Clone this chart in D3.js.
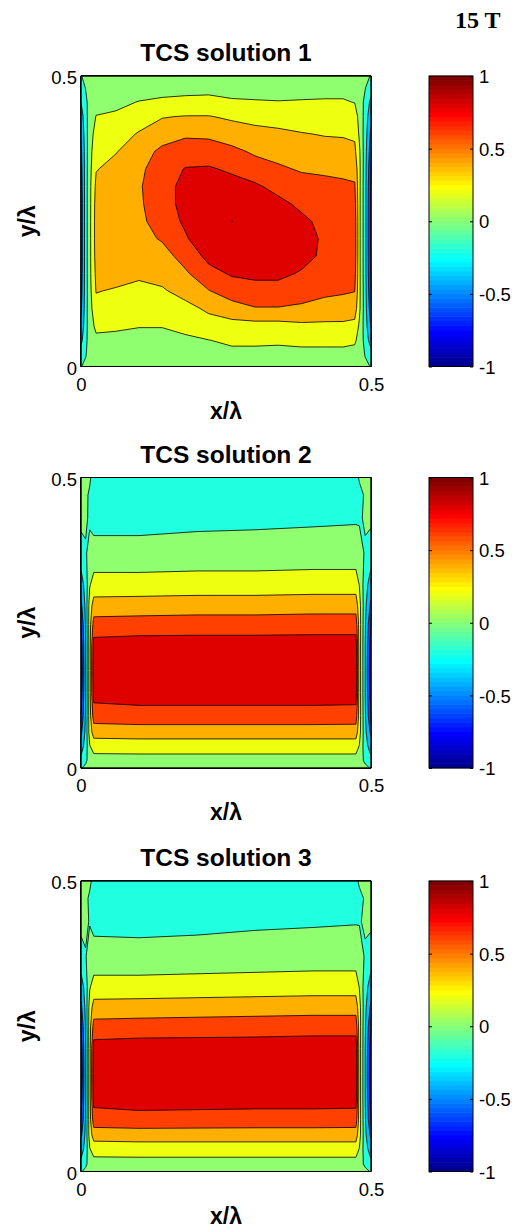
<!DOCTYPE html>
<html><head><meta charset="utf-8">
<script src="https://cdn.jsdelivr.net/npm/d3@7"></script>
<style>body{margin:0;background:#fff}</style>
</head><body>
<svg id="c" width="516" height="1232" xmlns="http://www.w3.org/2000/svg"></svg>
<script>
// ---------------- data ----------------
const levels = [-1, -0.8, -0.6, -0.4, -0.2, 0, 0.2, 0.4, 0.6, 0.8, 1];
const axisTicks = [0, 0.5];
const axisTickLabels = ["0", "0.5"];
const cbarTicks = [1, 0.5, 0, -0.5, -1];
const cbarTickLabels = ["1", "0.5", "0", "-0.5", "-1"];
const titles = ["TCS solution 1", "TCS solution 2", "TCS solution 3"];
const cornerLabel = "15 T";
const xLabel = "x/λ", yLabel = "y/λ";

// panel 1 grid (x/λ columns, y/λ rows from top to bottom)
const gridX1 = [0, 0.008, 0.015, 0.026, 0.06, 0.1, 0.14, 0.18, 0.22, 0.26, 0.3, 0.34, 0.38, 0.42, 0.452, 0.472, 0.48, 0.49, 0.5];
const gridY1 = [0.5, 0.48, 0.455, 0.43, 0.40, 0.37, 0.34, 0.31, 0.28, 0.25, 0.22, 0.19, 0.16, 0.13, 0.10, 0.07, 0.045, 0.02, 0];
const field1 = [
 [-0.01, 0.05, 0.08, 0.1, 0.1, 0.1, 0.1, 0.1, 0.1, 0.1, 0.1, 0.1, 0.1, 0.1, 0.1, 0.1, 0.08, 0.04, -0.01],
 [-0.1, 0.01, 0.09, 0.11, 0.12, 0.14, 0.15, 0.15, 0.15, 0.14, 0.15, 0.15, 0.15, 0.15, 0.15, 0.14, 0.1, 0.01, -0.12],
 [-0.2, -0.06, 0.1, 0.15, 0.17, 0.205, 0.224, 0.24, 0.25, 0.22, 0.21, 0.205, 0.21, 0.215, 0.215, 0.195, 0.12, -0.06, -0.25],
 [-0.3, -0.08, 0.11, 0.205, 0.22, 0.29, 0.39, 0.41, 0.41, 0.37, 0.33, 0.32, 0.31, 0.31, 0.31, 0.28, 0.15, -0.08, -0.35],
 [-0.38, -0.09, 0.12, 0.27, 0.3, 0.42, 0.5, 0.57, 0.56, 0.5, 0.47, 0.44, 0.41, 0.39, 0.385, 0.37, 0.17, -0.1, -0.45],
 [-0.44, -0.1, 0.13, 0.33, 0.39, 0.5, 0.65, 0.7, 0.7, 0.65, 0.57, 0.53, 0.5, 0.47, 0.46, 0.44, 0.23, -0.12, -0.52],
 [-0.48, -0.1, 0.14, 0.39, 0.46, 0.56, 0.7, 0.81, 0.82, 0.77, 0.69, 0.63, 0.58, 0.575, 0.56, 0.54, 0.25, -0.13, -0.58],
 [-0.5, -0.1, 0.15, 0.44, 0.5, 0.58, 0.72, 0.86, 0.9, 0.87, 0.83, 0.74, 0.68, 0.64, 0.63, 0.62, 0.25, -0.14, -0.62],
 [-0.52, -0.1, 0.15, 0.47, 0.53, 0.57, 0.72, 0.86, 0.95, 0.95, 0.92, 0.85, 0.76, 0.7, 0.68, 0.67, 0.25, -0.14, -0.64],
 [-0.52, -0.1, 0.15, 0.48, 0.55, 0.55, 0.7, 0.83, 0.96, 1.001, 0.97, 0.92, 0.84, 0.75, 0.71, 0.7, 0.25, -0.14, -0.65],
 [-0.52, -0.1, 0.15, 0.48, 0.55, 0.53, 0.62, 0.78, 0.93, 0.97, 0.97, 0.95, 0.88, 0.77, 0.72, 0.71, 0.25, -0.14, -0.65],
 [-0.52, -0.1, 0.15, 0.47, 0.53, 0.5, 0.52, 0.68, 0.85, 0.9, 0.93, 0.93, 0.87, 0.76, 0.71, 0.7, 0.25, -0.14, -0.64],
 [-0.5, -0.1, 0.15, 0.44, 0.48, 0.44, 0.46, 0.57, 0.74, 0.82, 0.85, 0.85, 0.78, 0.72, 0.68, 0.66, 0.25, -0.14, -0.62],
 [-0.48, -0.1, 0.14, 0.41, 0.38, 0.34, 0.38, 0.46, 0.59, 0.7, 0.72, 0.72, 0.68, 0.64, 0.62, 0.605, 0.25, -0.13, -0.58],
 [-0.44, -0.09, 0.13, 0.33, 0.3, 0.27, 0.3, 0.35, 0.43, 0.52, 0.59, 0.59, 0.57, 0.53, 0.52, 0.5, 0.24, -0.12, -0.52],
 [-0.36, -0.08, 0.12, 0.24, 0.23, 0.21, 0.21, 0.26, 0.33, 0.33, 0.33, 0.33, 0.36, 0.36, 0.36, 0.34, 0.17, -0.1, -0.42],
 [-0.25, -0.06, 0.11, 0.16, 0.15, 0.13, 0.13, 0.16, 0.195, 0.24, 0.24, 0.23, 0.25, 0.25, 0.25, 0.23, 0.13, -0.07, -0.3],
 [-0.1, -0.015, 0.09, 0.11, 0.11, 0.1, 0.1, 0.11, 0.12, 0.14, 0.14, 0.14, 0.14, 0.14, 0.14, 0.13, 0.1, -0.01, -0.12],
 [-0.01, 0.05, 0.08, 0.1, 0.1, 0.09, 0.09, 0.1, 0.1, 0.1, 0.1, 0.1, 0.1, 0.1, 0.1, 0.1, 0.08, 0.04, -0.01]
];

// panels 2 and 3 grid columns
const gridX23 = [0, 0.008, 0.015, 0.022, 0.1, 0.2, 0.3, 0.4, 0.474, 0.48, 0.49, 0.5];
const gridY2 = [0.5, 0.47, 0.43, 0.37, 0.316, 0.28, 0.247, 0.21, 0.168, 0.13, 0.09, 0.062, 0.038, 0.013, 0];
const field2 = [
 [0.02, 0.05, 0.03, -0.08, -0.11, -0.12, -0.12, -0.11, -0.05, 0.02, 0.05, 0.03],
 [0.05, 0.04, -0.03, -0.1, -0.1, -0.1, -0.09, -0.08, -0.07, -0.05, 0.02, 0.05],
 [0.05, 0.03, -0.03, -0.07, -0.07, -0.05, -0.04, -0.03, -0.02, -0.02, 0.02, 0.04],
 [-0.08, -0.02, 0.06, 0.07, 0.07, 0.08, 0.08, 0.09, 0.09, 0.07, -0.02, -0.1],
 [-0.3, -0.12, 0.18, 0.28, 0.28, 0.29, 0.29, 0.3, 0.3, 0.19, -0.12, -0.3],
 [-0.45, -0.15, 0.3, 0.48, 0.49, 0.5, 0.5, 0.51, 0.51, 0.28, -0.15, -0.45],
 [-0.6, -0.18, 0.32, 0.68, 0.69, 0.7, 0.7, 0.71, 0.71, 0.3, -0.18, -0.6],
 [-0.7, -0.2, 0.32, 0.88, 0.9, 0.9, 0.9, 0.9, 0.9, 0.3, -0.2, -0.7],
 [-0.75, -0.2, 0.32, 0.92, 0.95, 0.95, 0.95, 0.95, 0.94, 0.3, -0.2, -0.75],
 [-0.7, -0.2, 0.32, 0.88, 0.9, 0.9, 0.9, 0.9, 0.9, 0.3, -0.2, -0.7],
 [-0.6, -0.18, 0.32, 0.7, 0.72, 0.72, 0.72, 0.72, 0.71, 0.3, -0.18, -0.6],
 [-0.45, -0.15, 0.3, 0.49, 0.5, 0.5, 0.5, 0.5, 0.5, 0.28, -0.15, -0.45],
 [-0.3, -0.12, 0.19, 0.29, 0.3, 0.3, 0.3, 0.3, 0.3, 0.19, -0.12, -0.3],
 [-0.15, -0.05, 0.1, 0.12, 0.12, 0.12, 0.12, 0.12, 0.12, 0.1, -0.05, -0.15],
 [-0.02, 0.06, 0.09, 0.1, 0.1, 0.1, 0.1, 0.1, 0.1, 0.09, 0.06, -0.02]
];

const gridY3 = [0.5, 0.47, 0.43, 0.37, 0.318, 0.282, 0.249, 0.212, 0.168, 0.13, 0.09, 0.063, 0.039, 0.013, 0];
const field3 = [
 [0.02, 0.05, 0.04, -0.06, -0.11, -0.12, -0.12, -0.11, -0.04, 0.03, 0.05, 0.03],
 [0.05, 0.04, -0.03, -0.1, -0.11, -0.11, -0.1, -0.09, -0.07, -0.05, 0.02, 0.05],
 [0.05, 0.03, -0.01, -0.05, -0.06, -0.05, -0.03, -0.02, -0.01, -0.01, 0.02, 0.04],
 [-0.07, -0.01, 0.07, 0.07, 0.07, 0.08, 0.09, 0.1, 0.1, 0.08, -0.02, -0.1],
 [-0.3, -0.12, 0.18, 0.28, 0.28, 0.29, 0.3, 0.31, 0.31, 0.19, -0.12, -0.3],
 [-0.45, -0.15, 0.3, 0.48, 0.49, 0.5, 0.51, 0.52, 0.52, 0.28, -0.15, -0.45],
 [-0.6, -0.18, 0.32, 0.68, 0.69, 0.7, 0.71, 0.72, 0.72, 0.3, -0.18, -0.6],
 [-0.7, -0.2, 0.32, 0.88, 0.9, 0.9, 0.9, 0.91, 0.91, 0.3, -0.2, -0.7],
 [-0.75, -0.2, 0.32, 0.92, 0.95, 0.95, 0.95, 0.95, 0.94, 0.3, -0.2, -0.75],
 [-0.7, -0.2, 0.32, 0.88, 0.9, 0.9, 0.9, 0.9, 0.9, 0.3, -0.2, -0.7],
 [-0.6, -0.18, 0.32, 0.72, 0.74, 0.73, 0.72, 0.72, 0.71, 0.3, -0.18, -0.6],
 [-0.45, -0.15, 0.3, 0.49, 0.5, 0.5, 0.5, 0.5, 0.5, 0.28, -0.15, -0.45],
 [-0.3, -0.12, 0.19, 0.29, 0.3, 0.3, 0.3, 0.3, 0.3, 0.19, -0.12, -0.3],
 [-0.15, -0.05, 0.1, 0.12, 0.12, 0.12, 0.12, 0.12, 0.12, 0.1, -0.05, -0.15],
 [-0.02, 0.06, 0.09, 0.1, 0.1, 0.1, 0.1, 0.1, 0.1, 0.09, 0.06, -0.02]
];

// ---------------- colormap (MATLAB jet, 64 entries) ----------------
const cmap = (() => {
  const m = 64, n = 16, u = [];
  for (let i = 1; i <= n; i++) u.push(i / n);
  for (let i = 0; i < n - 1; i++) u.push(1);
  for (let i = n; i >= 1; i--) u.push(i / n);
  const J = Array.from({length: m}, () => [0, 0, 0]);
  const g0 = Math.ceil(n / 2) - (m % 4 === 1 ? 1 : 0);
  u.forEach((v, k) => {
    const g = g0 + 1 + k, r = g + n, b = g - n;
    if (r >= 1 && r <= m) J[r - 1][0] = v;
    if (g >= 1 && g <= m) J[g - 1][1] = v;
    if (b >= 1 && b <= m) J[b - 1][2] = v;
  });
  return J.map(c => d3.rgb(c[0] * 255, c[1] * 255, c[2] * 255).formatHex());
})();
const colorFor = v => cmap[Math.max(0, Math.min(63, Math.floor((v + 1) / 2 * 64 + 1e-9)))];

// ---------------- layout ----------------
const svg = d3.select("#c");
const sans = "'Liberation Sans', Arial, Helvetica, sans-serif";
const left = 81, W = 290, H = 290.5;
const cbX = 429, cbW = 44;
const panels = [
  {gx: gridX1, gy: gridY1, f: field1, top: 76},
  {gx: gridX23, gy: gridY2, f: field2, top: 477.5},
  {gx: gridX23, gy: gridY3, f: field3, top: 881}
];

svg.append("text").attr("x", 455).attr("y", 28)
  .attr("font-family", "'Liberation Serif', 'Times New Roman', serif")
  .attr("font-weight", "bold").attr("font-size", 24).attr("fill", "#000")
  .text(cornerLabel);

panels.forEach((p, pi) => {
  const bottom = p.top + H;
  const x = d3.scaleLinear().domain([0, 0.5]).range([left, left + W]);
  const y = d3.scaleLinear().domain([0, 0.5]).range([bottom, p.top]);
  const n = p.gx.length, m = p.gy.length;
  const ix = d3.scaleLinear().domain(d3.range(n)).range(p.gx).clamp(true);
  const iy = d3.scaleLinear().domain(d3.range(m)).range(p.gy).clamp(true);
  const cs = d3.contours().size([n, m]).thresholds(levels)(p.f.flat());
  const tr = pt => [x(ix(pt[0] - 0.5)), y(iy(pt[1] - 0.5))];
  const toPath = mp => mp.coordinates.map(poly =>
      poly.map(ring => "M" + ring.map(tr).map(q => q[0].toFixed(2) + "," + q[1].toFixed(2)).join("L") + "Z").join("")
    ).join("");

  const g = svg.append("g");
  g.selectAll("path").data(cs).join("path")
    .attr("d", toPath)
    .attr("fill", d => colorFor(d.value))
    .attr("fill-rule", "evenodd")
    .attr("stroke", "#000").attr("stroke-width", 0.8).attr("stroke-linejoin", "round");

  // axes box
  svg.append("rect").attr("x", left).attr("y", p.top).attr("width", W).attr("height", H)
    .attr("fill", "none").attr("stroke", "#000").attr("stroke-width", 1);

  // x axis tick labels
  const ax = svg.append("g").attr("transform", `translate(0,${bottom})`)
    .call(d3.axisBottom(x).tickValues(axisTicks).tickFormat((d, i) => axisTickLabels[i]).tickSize(0).tickPadding(11));
  ax.select(".domain").remove();
  ax.selectAll("text").attr("font-family", sans).attr("font-size", 18.5).attr("fill", "#000");

  // y axis tick labels
  const ay = svg.append("g").attr("transform", `translate(${left},0)`)
    .call(d3.axisLeft(y).tickValues(axisTicks).tickFormat((d, i) => axisTickLabels[i]).tickSize(0).tickPadding(4));
  ay.select(".domain").remove();
  ay.selectAll("text").attr("font-family", sans).attr("font-size", 18.5).attr("fill", "#000").attr("dy", "0.42em");

  // title
  svg.append("text").attr("x", left + W / 2).attr("y", p.top - 15)
    .attr("text-anchor", "middle").attr("font-family", sans).attr("font-weight", "bold")
    .attr("font-size", 24.5).attr("fill", "#000").text(titles[pi]);

  // axis labels
  svg.append("text").attr("x", left + W / 2).attr("y", bottom + 52)
    .attr("text-anchor", "middle").attr("font-family", sans).attr("font-weight", "bold")
    .attr("font-size", 23).attr("fill", "#000").text(xLabel);
  svg.append("text").attr("transform", `translate(35,${p.top + H / 2}) rotate(-90)`)
    .attr("text-anchor", "middle").attr("font-family", sans).attr("font-weight", "bold")
    .attr("font-size", 23).attr("fill", "#000").text(yLabel);

  // colorbar
  const cy = d3.scaleLinear().domain([-1, 1]).range([bottom, p.top]);
  const steps = d3.range(64);
  svg.append("g").selectAll("rect").data(steps).join("rect")
    .attr("x", cbX).attr("width", cbW)
    .attr("y", k => cy(-1 + (k + 1) * 2 / 64) - 0.3)
    .attr("height", k => cy(-1 + k * 2 / 64) - cy(-1 + (k + 1) * 2 / 64) + 0.6)
    .attr("fill", k => cmap[k]);
  svg.append("rect").attr("x", cbX).attr("y", p.top).attr("width", cbW).attr("height", H)
    .attr("fill", "none").attr("stroke", "#000").attr("stroke-width", 1);
  const cr = svg.append("g").attr("transform", `translate(${cbX + cbW},0)`)
    .call(d3.axisRight(cy).tickValues(cbarTicks).tickFormat((d, i) => cbarTickLabels[i]).tickSizeInner(-3).tickSizeOuter(0).tickPadding(6));
  cr.select(".domain").remove();
  cr.selectAll("line").attr("stroke", "#000");
  cr.selectAll("text").attr("font-family", sans).attr("font-size", 18.5).attr("fill", "#000").attr("dy", "0.36em");
  const cl = svg.append("g").attr("transform", `translate(${cbX},0)`)
    .call(d3.axisLeft(cy).tickValues(cbarTicks).tickFormat("").tickSizeInner(-3).tickSizeOuter(0));
  cl.select(".domain").remove();
  cl.selectAll("line").attr("stroke", "#000");
});
</script>
</body></html>
